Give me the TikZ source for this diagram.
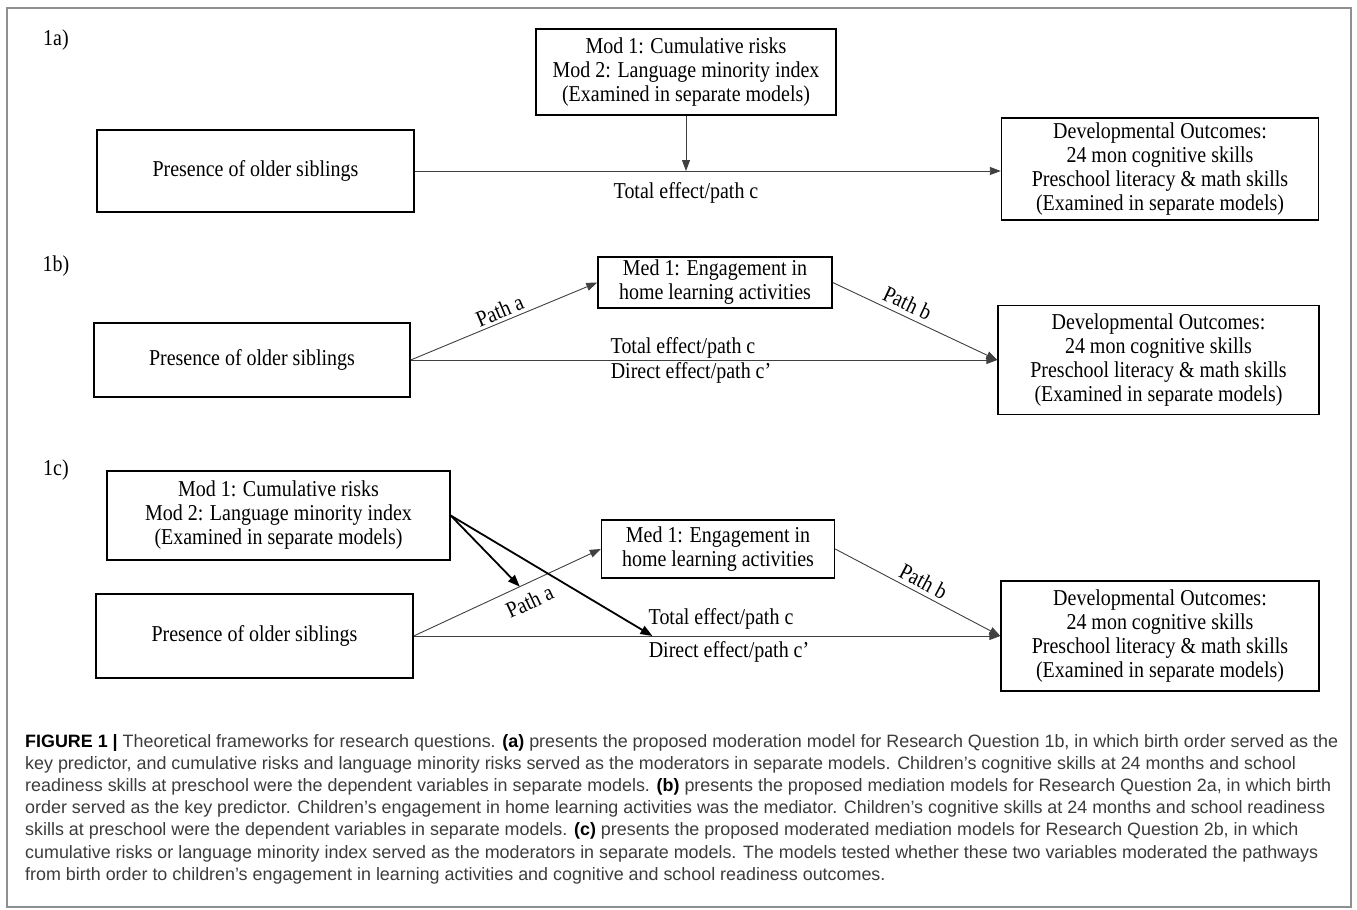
\documentclass[tikz,border=0pt]{standalone}
\usepackage{fontspec}
\setmainfont{Liberation Serif}
\newfontfamily\diafont[FakeStretch=0.88]{Liberation Serif}
\newfontfamily\capfont{Liberation Sans}
\usetikzlibrary{arrows.meta,calc}
\definecolor{capgray}{HTML}{3C3C3C}
\definecolor{framegray}{HTML}{8F8F8F}
\begin{document}
\begin{tikzpicture}[x=1pt,y=-1pt,
  every node/.style={inner sep=0pt},
  box/.style={draw=black,line width=1.4pt,align=center,font=\diafont\fontsize{22.7}{24}\selectfont},
  lbl/.style={font=\diafont\fontsize{22.7}{24}\selectfont},
  ln/.style={draw=black!75,line width=0.9pt},
  arr/.style={ln,-{Triangle[length=11pt,width=8pt]}},
  modarr/.style={draw=black,line width=1.8pt,-{Triangle[length=12pt,width=9pt]}},
  captxt/.style={anchor=base west,font=\capfont\fontsize{17.9}{20}\selectfont,text=capgray}
]
\useasboundingbox (0,0) rectangle (1357,910);
\fill[white] (0,0) rectangle (1357,910);
\draw[framegray,line width=1.5pt] (7,8) rectangle (1351,907);

% ---------- 1a
\node[lbl] (l1a) at (56,40) {1a)};
\node[box,minimum width=300pt,minimum height=86pt] (mod1a) at (686,72) {Mod 1: Cumulative risks\\Mod 2: Language minority index\\(Examined in separate models)};
\node[box,minimum width=317pt,minimum height=82pt] (pres1a) at (255.5,171) {Presence of older siblings};
\node[box,minimum width=317pt,minimum height=102pt] (do1a) at (1160,169) {Developmental Outcomes:\\24 mon cognitive skills\\Preschool literacy \& math skills\\(Examined in separate models)};
\draw[arr] (pres1a.east) -- (do1a.west |- pres1a.east);
\draw[arr] (mod1a.south) -- (mod1a.south |- pres1a.east);
\node[lbl] (tc1a) at (686,193) {Total effect/path c};

% ---------- 1b
\node[lbl] (l1b) at (56,266) {1b)};
\node[box,minimum width=234pt,minimum height=51pt] (med1b) at (715,282.5) {Med 1: Engagement in\\home learning activities};
\node[box,minimum width=316pt,minimum height=74pt] (pres1b) at (252,360) {Presence of older siblings};
\node[box,minimum width=321pt,minimum height=109pt] (do1b) at (1158.5,360) {Developmental Outcomes:\\24 mon cognitive skills\\Preschool literacy \& math skills\\(Examined in separate models)};
\draw[arr] (pres1b.east) -- node[lbl,sloped,above=3pt,pos=0.5] (pa1b) {Path a} (med1b.west);
\draw[arr] (med1b.east) -- node[lbl,sloped,above=5pt,pos=0.42] (pb1b) {Path b} (do1b.west);
\draw[arr] (pres1b.east) -- (do1b.west);
\node[lbl] (tc1b) at (683,348) {Total effect/path c};
\node[lbl] (dc1b) at (691,373) {Direct effect/path c’};

% ---------- 1c
\node[lbl] (l1c) at (56,470) {1c)};
\node[box,minimum width=343pt,minimum height=89pt] (mod1c) at (278.5,515.5) {Mod 1: Cumulative risks\\Mod 2: Language minority index\\(Examined in separate models)};
\node[box,minimum width=233pt,minimum height=58pt] (med1c) at (718,549) {Med 1: Engagement in\\home learning activities};
\node[box,minimum width=317pt,minimum height=84pt] (pres1c) at (254.5,636) {Presence of older siblings};
\node[box,minimum width=318pt,minimum height=110pt] (do1c) at (1160,636) {Developmental Outcomes:\\24 mon cognitive skills\\Preschool literacy \& math skills\\(Examined in separate models)};
\draw[arr] (pres1c.east) -- node[lbl,sloped,below=9pt,pos=0.58] (pa1c) {Path a} (med1c.west);
\draw[arr] (med1c.east) -- node[lbl,sloped,above=4pt,pos=0.5] (pb1c) {Path b} (do1c.west);
\draw[arr] (pres1c.east) -- (do1c.west);
\coordinate (ta1c) at ($(pres1c.east)!0.567!(med1c.west)$);
\coordinate (tcc1c) at ($(pres1c.east)!0.407!(do1c.west)$);
\draw[modarr] (mod1c.east) -- (ta1c);
\draw[modarr] (mod1c.east) -- (tcc1c);
\node[lbl] (tc1c) at (721,619) {Total effect/path c};
\node[lbl] (dc1c) at (729,652) {Direct effect/path c’};

% ---------- caption
\node[captxt] (cap1) at (25,747) {{\bfseries\color{black}FIGURE 1 |} Theoretical frameworks for research questions. {\bfseries\color{black}(a)} presents the proposed moderation model for Research Question 1b, in which birth order served as the};
\node[captxt] (cap2) at (25,769.2) {key predictor, and cumulative risks and language minority risks served as the moderators in separate models. Children’s cognitive skills at 24 months and school};
\node[captxt] (cap3) at (25,791.4) {readiness skills at preschool were the dependent variables in separate models. {\bfseries\color{black}(b)} presents the proposed mediation models for Research Question 2a, in which birth};
\node[captxt] (cap4) at (25,813.6) {order served as the key predictor. Children’s engagement in home learning activities was the mediator. Children’s cognitive skills at 24 months and school readiness};
\node[captxt] (cap5) at (25,835.8) {skills at preschool were the dependent variables in separate models. {\bfseries\color{black}(c)} presents the proposed moderated mediation models for Research Question 2b, in which};
\node[captxt] (cap6) at (25,858) {cumulative risks or language minority index served as the moderators in separate models. The models tested whether these two variables moderated the pathways};
\node[captxt] (cap7) at (25,880.2) {from birth order to children’s engagement in learning activities and cognitive and school readiness outcomes.};
\end{tikzpicture}
\end{document}
